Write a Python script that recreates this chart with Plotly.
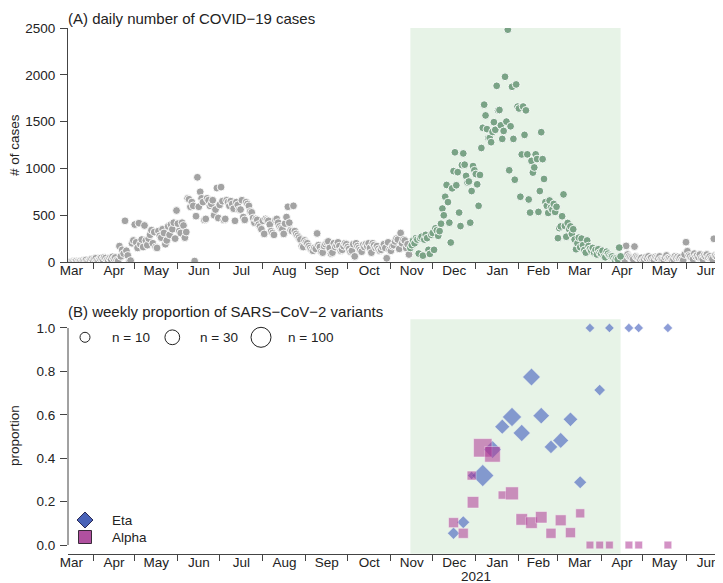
import math
import pandas as pd
import plotly.graph_objects as go

# ---------------- data ----------------
CASES_START = "2020-03-16"
# daily number of COVID-19 cases, one row per week (Mon..Sun)
cases_weeks = [
    [0, 3, 6, 4, 10, 2, 0],
    [12, 8, 18, 15, 22, 6, 5],
    [25, 30, 18, 35, 40, 15, 10],
    [38, 45, 30, 50, 42, 20, 12],
    [40, 28, 55, 35, 48, 18, 10],
    [170, 60, 130, 90, 440, 120, 70],
    [0, 15, 200, 230, 400, 210, 150],
    [415, 190, 240, 160, 390, 230, 180],
    [250, 290, 340, 200, 320, 160, 150],
    [330, 280, 260, 350, 310, 190, 230],
    [380, 290, 400, 350, 420, 250, 550],
    [410, 330, 310, 420, 390, 260, 320],
    [680, 670, 590, 640, 600, 10, 490],
    [905, 590, 750, 680, 640, 450, 460],
    [680, 660, 600, 620, 660, 500, 560],
    [790, 470, 610, 800, 650, 450, 460],
    [660, 640, 600, 650, 620, 570, 440],
    [640, 610, 560, 560, 660, 480, 450],
    [640, 620, 600, 540, 530, 470, 420],
    [460, 450, 400, 380, 350, 440, 300],
    [460, 450, 440, 400, 330, 310, 290],
    [450, 460, 420, 380, 360, 350, 300],
    [410, 480, 590, 420, 340, 330, 600],
    [330, 300, 280, 260, 240, 170, 160],
    [230, 210, 200, 170, 150, 130, 120],
    [150, 140, 305, 180, 160, 110, 100],
    [170, 190, 210, 220, 150, 90, 100],
    [200, 160, 180, 210, 170, 120, 130],
    [170, 200, 190, 160, 140, 110, 120],
    [190, 60, 200, 170, 150, 130, 110],
    [180, 160, 190, 170, 200, 150, 100],
    [200, 180, 150, 170, 140, 120, 130],
    [160, 190, 150, 40, 210, 130, 120],
    [170, 180, 220, 250, 240, 140, 310],
    [200, 240, 230, 150, 190, 80, 150],
    [180, 230, 200, 255, 240, 90, 255],
    [270, 68, 240, 290, 255, 130, 86],
    [291, 310, 130, 360, 338, 280, 330],
    [409, 571, 499, 697, 823, 640, 420],
    [208, 787, 971, 1172, 820, 960, 528],
    [384, 1036, 1160, 1040, 920, 850, 860],
    [420, 758, 1025, 980, 940, 830, 600],
    [930, 1218, 1434, 1681, 1566, 1420, 1325],
    [1325, 1280, 1390, 1494, 1412, 1882, 1620],
    [1624, 1460, 1315, 1400, 1979, 1500, 2482],
    [980, 1450, 1872, 1315, 879, 1897, 1660],
    [1640, 697, 1149, 1661, 1358, 1620, 1150],
    [668, 528, 1080, 955, 1010, 1150, 1100],
    [535, 758, 1387, 1099, 887, 640, 600],
    [524, 657, 580, 560, 620, 535, 590],
    [255, 362, 380, 489, 722, 385, 270],
    [417, 352, 380, 300, 350, 240, 136],
    [200, 260, 158, 250, 180, 129, 100],
    [230, 170, 140, 120, 150, 100, 129],
    [80, 136, 100, 90, 120, 60, 50],
    [110, 90, 70, 60, 60, 40, 22],
    [40, 30, 154, 60, 50, 30, 20],
    [172, 80, 60, 50, 40, 30, 165],
    [60, 50, 40, 30, 45, 20, 25],
    [50, 40, 60, 35, 45, 20, 15],
    [55, 45, 40, 60, 30, 25, 20],
    [50, 70, 40, 45, 35, 20, 30],
    [60, 45, 55, 40, 50, 25, 20],
    [80, 212, 115, 70, 60, 40, 30],
    [90, 60, 70, 50, 80, 40, 30],
    [70, 60, 80, 50, 60, 40, 30],
    [248, 70, 60, 80, 50, 40, 30],
]

SHADE_START = "2020-11-15"
SHADE_END = "2021-04-15"

# weekly proportion of variants
eta_dates = ["2020-12-16", "2020-12-23", "2020-12-29", "2021-01-06", "2021-01-13",
             "2021-01-20", "2021-01-27", "2021-02-03", "2021-02-10", "2021-02-17",
             "2021-02-24", "2021-03-03", "2021-03-10", "2021-03-17", "2021-03-24",
             "2021-03-31", "2021-04-07", "2021-04-21", "2021-04-28", "2021-05-19"]
eta_prop = [0.054, 0.105, 0.32, 0.32, 0.44, 0.545, 0.59, 0.516, 0.774, 0.596,
            0.452, 0.482, 0.579, 0.289, 1.0, 0.714, 1.0, 1.0, 1.0, 1.0]
eta_n = [8, 9, 4, 45, 21, 13, 27, 19, 21, 17, 10, 15, 12, 9, 5, 7, 5, 5, 5, 5]

alpha_dates = ["2020-12-16", "2020-12-23", "2020-12-29", "2020-12-30", "2021-01-06",
               "2021-01-13", "2021-01-20", "2021-01-27", "2021-02-03", "2021-02-10",
               "2021-02-17", "2021-02-24", "2021-03-03", "2021-03-10", "2021-03-17",
               "2021-03-24", "2021-03-31", "2021-04-07", "2021-04-21", "2021-04-28",
               "2021-05-19"]
alpha_prop = [0.103, 0.054, 0.32, 0.197, 0.448, 0.418, 0.23, 0.238, 0.118, 0.103,
              0.128, 0.054, 0.114, 0.057, 0.146, 0.0, 0.0, 0.0, 0.0, 0.0, 0.0]
alpha_n = [13, 13, 10, 19, 110, 54, 8, 27, 19, 19, 19, 13, 16, 13, 10, 7, 7, 7, 7, 7, 7]

legend_n = [10, 30, 100]

# ---------------- styling ----------------
FONT = "Liberation Sans, Arial, sans-serif"
FS = 13.5
FS_TITLE = 15
TXT = "#222222"
AX = "#444444"
GRAY = "#A3A3A3"
GREEN = "#7AA386"
SHADE = "#E7F3E7"
ETA_C = "rgba(66,94,190,0.86)"
ALPHA_C = "rgba(176,56,150,0.78)"

# the page body adds an 8px offset; the figure is sized to fill the rest
OFF = 8
W, H = 723 - OFF, 583 - OFF
L = 68 - OFF


def px_x(p):
    """reference-picture x pixel -> paper x"""
    return (p - OFF - L) / (W - L)


def px_y(p):
    """reference-picture y pixel -> paper y"""
    return 1 - (p - OFF) / H


def diam(n):
    return 10 * math.log10(n)


cases = [v for wk in cases_weeks for v in wk]
dates = pd.date_range(CASES_START, periods=len(cases), freq="D")
df = pd.DataFrame({"date": dates, "cases": cases})
in_shade = (df["date"] >= SHADE_START) & (df["date"] <= SHADE_END)

fig = go.Figure()

case_marker = dict(size=7.8, line=dict(color="white", width=0.9))
fig.add_trace(go.Scatter(x=df.loc[~in_shade, "date"], y=df.loc[~in_shade, "cases"],
                         mode="markers", marker=dict(color=GRAY, **case_marker),
                         xaxis="x", yaxis="y", showlegend=False))
fig.add_trace(go.Scatter(x=df.loc[in_shade, "date"], y=df.loc[in_shade, "cases"],
                         mode="markers", marker=dict(color=GREEN, **case_marker),
                         xaxis="x", yaxis="y", showlegend=False))

fig.add_trace(go.Scatter(x=pd.to_datetime(eta_dates), y=eta_prop, mode="markers",
                         marker=dict(symbol="diamond", color=ETA_C,
                                     size=[diam(n) * 1.02 for n in eta_n],
                                     line=dict(color="rgba(255,255,255,0.5)", width=0.8)),
                         xaxis="x2", yaxis="y2", showlegend=False))
fig.add_trace(go.Scatter(x=pd.to_datetime(alpha_dates), y=alpha_prop, mode="markers",
                         marker=dict(symbol="square", color=ALPHA_C,
                                     size=[diam(n) * 0.9 for n in alpha_n],
                                     line=dict(color="rgba(255,255,255,0.6)", width=0.8)),
                         xaxis="x2", yaxis="y2", showlegend=False))

x_range = ["2020-03-14 01:00", "2021-06-27 14:00"]
xcommon = dict(type="date", range=x_range, dtick="M1", tick0="2020-03-01",
               tickformat="%b", ticklabelmode="period", ticks="outside", ticklen=6,
               tickcolor=AX, showline=True, linecolor=AX, linewidth=1,
               showgrid=False, zeroline=False, ticklabelstandoff=-10, automargin=False,
               tickfont=dict(family=FONT, size=FS, color=TXT))
ycommon = dict(ticks="outside", ticklen=7, tickcolor=AX, showgrid=False, zeroline=False,
               automargin=False, ticklabelstandoff=2,
               tickfont=dict(family=FONT, size=FS, color=TXT))

fig.update_layout(
    width=W, height=H,
    margin=dict(l=L, r=0, t=0, b=0, autoexpand=False),
    paper_bgcolor="white", plot_bgcolor="white",
    font=dict(family=FONT, size=FS, color=TXT),
    xaxis=dict(domain=[0, 1], anchor="y", **xcommon),
    yaxis=dict(domain=[px_y(262), px_y(28)], range=[0, 2500], dtick=500,
               showline=True, linecolor=AX, linewidth=1, anchor="x", **ycommon),
    xaxis2=dict(domain=[0, 1], anchor="y2", **xcommon),
    yaxis2=dict(domain=[px_y(553.7), px_y(319.3)], range=[-0.04, 1.04],
                tickvals=[0, 0.2, 0.4, 0.6, 0.8, 1.0], tickformat=".1f",
                showline=False, anchor="x2", **ycommon),
)

shapes = [
    dict(type="rect", xref="x", yref="y domain", x0=SHADE_START, x1=SHADE_END,
         y0=0, y1=1, fillcolor=SHADE, line=dict(width=0), layer="below"),
    dict(type="rect", xref="x2", yref="y2 domain", x0=SHADE_START, x1=SHADE_END,
         y0=0, y1=1, fillcolor=SHADE, line=dict(width=0), layer="below"),
    dict(type="line", xref="x2 domain", yref="y2", x0=0, x1=0, y0=0, y1=1,
         line=dict(color=AX, width=1)),
]

# size legend (circles)
leg_cx = [85, 172.3, 261]
leg_tx = [110, 197.7, 286]
leg_y = 337.3
annotations = []
for n, cx, tx in zip(legend_n, leg_cx, leg_tx):
    r = diam(n) / 2
    shapes.append(dict(type="circle", xref="paper", yref="paper",
                       xsizemode="pixel", ysizemode="pixel",
                       xanchor=px_x(cx), yanchor=px_y(leg_y),
                       x0=-r, x1=r, y0=-r, y1=r,
                       line=dict(color="#222222", width=1), fillcolor="rgba(0,0,0,0)"))
    annotations.append(dict(xref="paper", yref="paper", x=px_x(tx), y=px_y(leg_y),
                            text=f"n = {n}", showarrow=False, xanchor="left",
                            yanchor="middle", font=dict(family=FONT, size=FS, color=TXT)))

# variant legend
shapes.append(dict(type="path", xref="paper", yref="paper", xsizemode="pixel",
                   ysizemode="pixel", xanchor=px_x(85), yanchor=px_y(520),
                   path="M 0 8 L 8 0 L 0 -8 L -8 0 Z",
                   fillcolor="#4A63B8", line=dict(color="#2A2A55", width=1)))
shapes.append(dict(type="path", xref="paper", yref="paper", xsizemode="pixel",
                   ysizemode="pixel", xanchor=px_x(85), yanchor=px_y(537),
                   path="M -6.5 -6.5 L 6.5 -6.5 L 6.5 6.5 L -6.5 6.5 Z",
                   fillcolor="#B0509F", line=dict(color="#3A2A3A", width=1)))
for lab, yy in [("Eta", 520), ("Alpha", 537)]:
    annotations.append(dict(xref="paper", yref="paper", x=px_x(110), y=px_y(yy),
                            text=lab, showarrow=False, xanchor="left", yanchor="middle",
                            font=dict(family=FONT, size=FS, color=TXT)))

# titles and axis labels
annotations += [
    dict(xref="paper", yref="paper", x=px_x(66), y=px_y(19),
         text="(A) daily number of COVID\u221219 cases", showarrow=False,
         xanchor="left", yanchor="middle",
         font=dict(family=FONT, size=FS_TITLE, color=TXT)),
    dict(xref="paper", yref="paper", x=px_x(66), y=px_y(311),
         text="(B) weekly proportion of SARS\u2212CoV\u22122 variants", showarrow=False,
         xanchor="left", yanchor="middle",
         font=dict(family=FONT, size=FS_TITLE, color=TXT)),
    dict(xref="paper", yref="paper", x=px_x(14), y=px_y(145), text="# of cases",
         textangle=-90, showarrow=False, xanchor="center", yanchor="middle",
         font=dict(family=FONT, size=FS, color=TXT)),
    dict(xref="paper", yref="paper", x=px_x(14), y=px_y(436), text="proportion",
         textangle=-90, showarrow=False, xanchor="center", yanchor="middle",
         font=dict(family=FONT, size=FS, color=TXT)),
    dict(xref="x2", yref="paper", x="2021-01-01", y=px_y(576), text="2021",
         showarrow=False, xanchor="center", yanchor="middle",
         font=dict(family=FONT, size=FS, color=TXT)),
]

fig.update_layout(shapes=shapes, annotations=annotations)
fig.write_html("out.html")
